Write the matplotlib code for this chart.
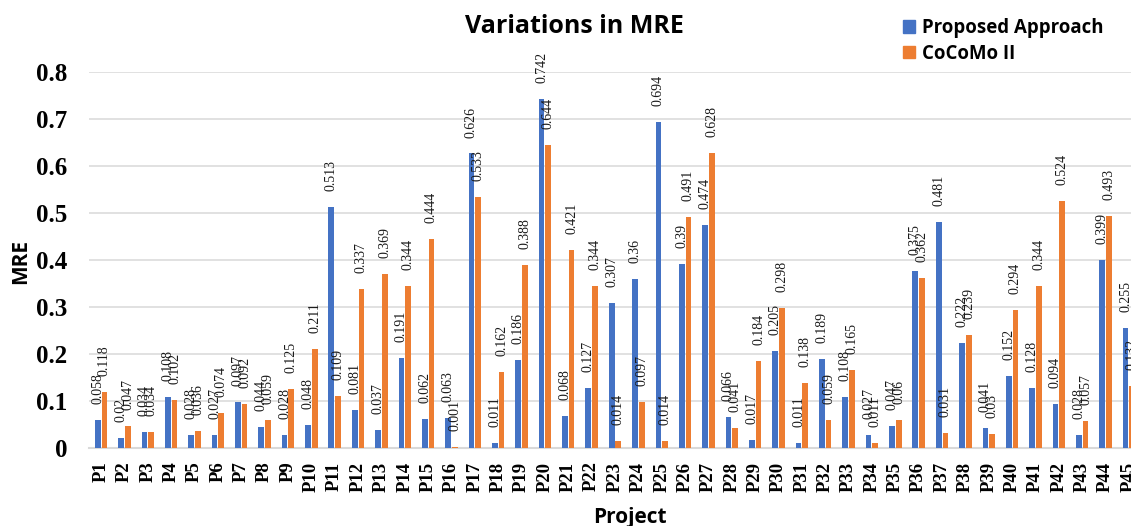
import numpy as np
import matplotlib
matplotlib.use("Agg")
import matplotlib.pyplot as plt
from matplotlib.patches import Patch

projects = ["P%d" % i for i in range(1, 46)]
proposed = [0.058, 0.02, 0.034, 0.108, 0.028, 0.027, 0.097, 0.044, 0.028, 0.048,
            0.513, 0.081, 0.037, 0.191, 0.062, 0.063, 0.626, 0.011, 0.186, 0.742,
            0.068, 0.127, 0.307, 0.36, 0.694, 0.39, 0.474, 0.066, 0.017, 0.205,
            0.011, 0.189, 0.108, 0.027, 0.047, 0.375, 0.481, 0.222, 0.041, 0.152,
            0.128, 0.094, 0.028, 0.399, 0.255]
cocomo = [0.118, 0.047, 0.034, 0.102, 0.036, 0.074, 0.092, 0.059, 0.125, 0.211,
          0.109, 0.337, 0.369, 0.344, 0.444, 0.001, 0.533, 0.162, 0.388, 0.644,
          0.421, 0.344, 0.014, 0.097, 0.014, 0.491, 0.628, 0.041, 0.184, 0.298,
          0.138, 0.059, 0.165, 0.011, 0.06, 0.362, 0.031, 0.239, 0.03, 0.294,
          0.344, 0.524, 0.057, 0.493, 0.132]
yticks = [0, 0.1, 0.2, 0.3, 0.4, 0.5, 0.6, 0.7, 0.8]
ytick_labels = ["0", "0.1", "0.2", "0.3", "0.4", "0.5", "0.6", "0.7", "0.8"]

blue = "#4472C4"
orange = "#ED7D31"
grid = "#D9D9D9"
sans = "Open Sans"
serif = "Liberation Serif"

W, H = 1131, 526
fig = plt.figure(figsize=(W / 100, H / 100), dpi=100)
ax = fig.add_axes([89.4 / W, 78.3 / H, 1051.2 / W, 376 / H])

x = np.arange(len(projects))
w = 0.245
off = 0.143
b1 = ax.bar(x - off, proposed, w, color=blue, zorder=3)
b2 = ax.bar(x + off, cocomo, w, color=orange, zorder=3)

# value labels above each bar
for bars, vals in ((b1, proposed), (b2, cocomo)):
    for r, v in zip(bars, vals):
        ax.annotate("%g" % v, (r.get_x() + r.get_width() / 2, v),
                    xytext=(0, 11.5), textcoords="offset points",
                    rotation=90, ha="center", va="bottom",
                    fontsize=10, family=serif, color="#1a1a1a", zorder=4)

ax.set_xlim(-0.5, len(projects) - 0.5)
ax.set_ylim(0, 0.8)
ax.set_yticks(yticks)
ax.set_yticklabels(ytick_labels, family=serif, fontweight="bold", fontsize=18)
ax.set_xticks(x)
ax.set_xticklabels(projects, rotation=90, family=serif, fontweight="bold", fontsize=13.5)
ax.tick_params(axis="y", length=0, pad=16)
ax.tick_params(axis="x", length=0, pad=10)
ax.yaxis.grid(True, color=grid, linewidth=1.1, zorder=0)
for s in ["top", "right", "left"]:
    ax.spines[s].set_visible(False)
ax.spines["bottom"].set_color(grid)
ax.spines["bottom"].set_linewidth(1.5)

fig.text(574 / W, 1 - 33 / H, "Variations in MRE", ha="center", va="baseline",
         family=sans, fontweight="bold", fontsize=18)
fig.text(629.5 / W, 1 - 523.5 / H, "Project", ha="center", va="baseline",
         family=sans, fontweight="bold", fontsize=15)
fig.text(21 / W, 1 - 261 / H, "MRE", ha="center", va="center", rotation=90,
         family=sans, fontweight="bold", fontsize=15)

handles = [Patch(color=blue), Patch(color=orange)]
fig.legend(handles, ["Proposed Approach", "CoCoMo II"], loc="upper left",
           bbox_to_anchor=(903 / W, 1 - 18 / H), frameon=False,
           prop={"family": sans, "weight": "bold", "size": 13.4},
           handlelength=0.65, handleheight=0.65, handletextpad=0.38,
           labelspacing=0.31, borderpad=0, borderaxespad=0)

fig.savefig("out.png", dpi=100)
